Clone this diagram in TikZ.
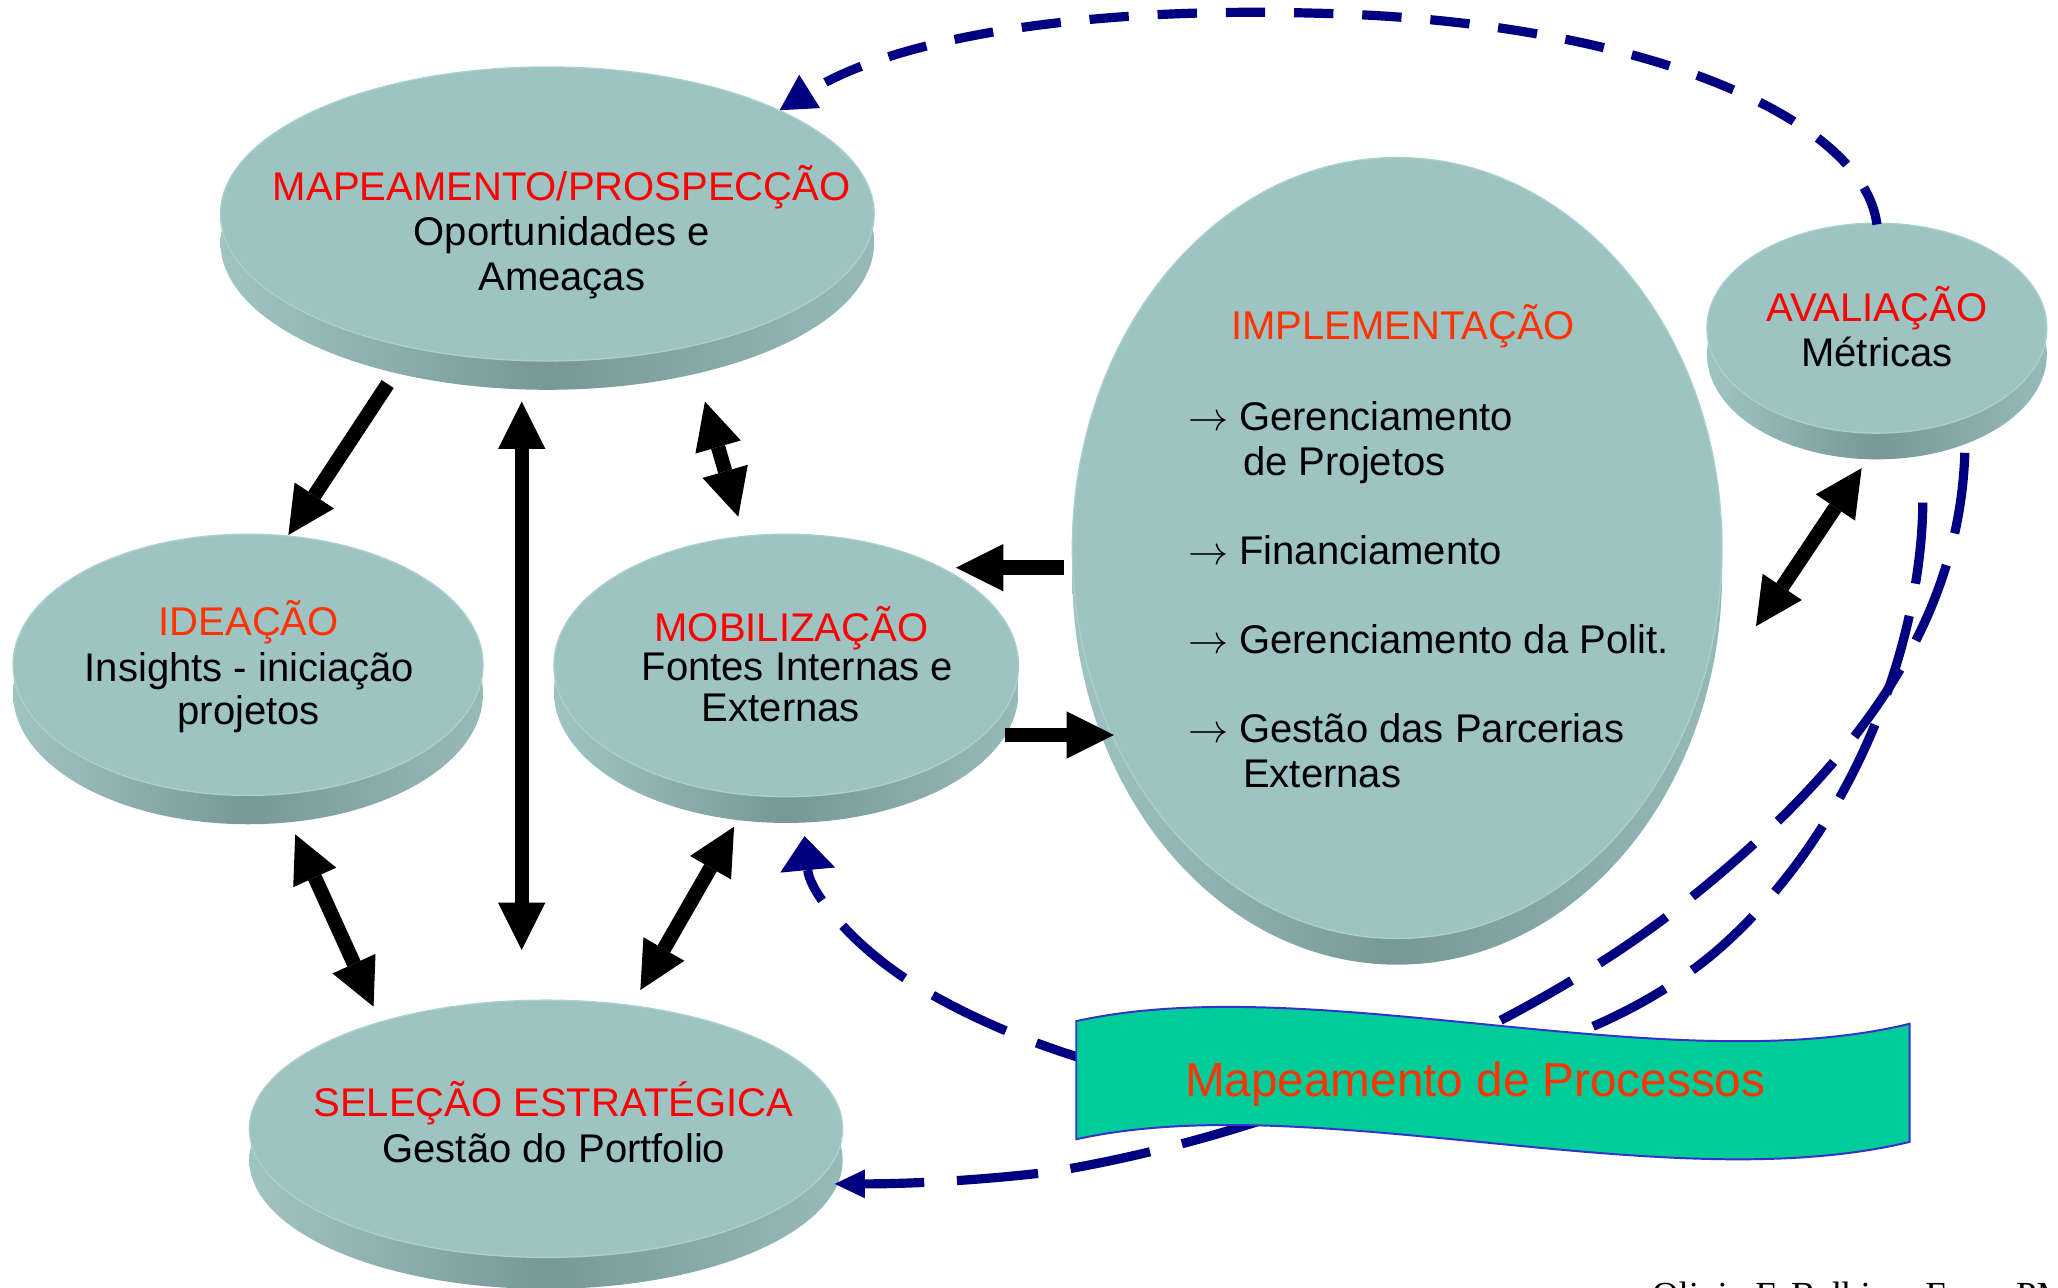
\RequirePackage{fix-cm}
\documentclass[tikz,border=0pt]{standalone}
\usepackage{fontspec}
\setmainfont{Liberation Sans}
\newfontfamily\footserif{Liberation Serif}
\usetikzlibrary{arrows.meta,shapes.geometric}
\definecolor{facec}{RGB}{157,195,195}
\definecolor{bandl}{RGB}{160,196,196}
\definecolor{bandm}{RGB}{120,152,152}
\definecolor{bandr}{RGB}{150,186,186}
\definecolor{rimc}{RGB}{172,208,208}
\definecolor{redA}{RGB}{255,0,0}
\definecolor{redB}{RGB}{255,51,0}
\definecolor{navyc}{RGB}{0,0,128}
\definecolor{bannerc}{RGB}{0,204,153}
\definecolor{bannerl}{RGB}{51,51,204}
\newcommand{\itemarrow}{$\rightarrow$\ }
\begin{document}
\begin{tikzpicture}[x=1pt,y=-1pt,
  face/.style={ellipse, fill=facec, draw=rimc, line width=1pt, inner sep=0pt},
  band/.style={left color=bandl, right color=bandr, middle color=bandm},
  txt/.style={font=\fontsize{30.5}{34}\selectfont, inner sep=0pt, anchor=base},
  txtw/.style={txt, anchor=base west},
  blk/.style={line width=11pt, draw=black},
  sarr/.style={blk, -{Triangle[length=36pt,width=36pt,line width=0pt]}},
  darr/.style={blk, {Triangle[length=36pt,width=36pt,line width=0pt]}-{Triangle[length=36pt,width=36pt,line width=0pt]}},
  dshA/.style={draw=navyc, line width=7pt, dash pattern=on 30pt off 22pt},
  dshB/.style={draw=navyc, line width=7pt, dash pattern=on 62pt off 25pt},
]
\useasboundingbox (0,0) rectangle (1568,981);

% ---------- ellipses (3D discs) ----------
\shade[band] (417,185) ellipse [x radius=249pt, y radius=112pt];
\node[face, minimum width=498pt, minimum height=224pt] (map) at (417,163) {};

\shade[band] (189,528.5) ellipse [x radius=179pt, y radius=99.5pt];
\node[face, minimum width=358pt, minimum height=199pt] (idea) at (189,506.5) {};

\shade[band] (599,527) ellipse [x radius=177pt, y radius=100pt];
\node[face, minimum width=354pt, minimum height=200pt] (mob) at (599,507) {};

\shade[band] (416,884) ellipse [x radius=226pt, y radius=98pt];
\node[face, minimum width=452pt, minimum height=196pt] (sel) at (416,860) {};

\shade[band] (1064.5,437.5) ellipse [x radius=247.5pt, y radius=297.5pt];
\node[face, minimum width=495pt, minimum height=595pt] (impl) at (1064.5,417.5) {};

\shade[band] (1430,270) ellipse [x radius=129.5pt, y radius=80pt];
\node[face, minimum width=259pt, minimum height=160pt] (aval) at (1430,250) {};

% ---------- texts ----------
\node[txt, text=redA] (map1) at (428,153) {MAPEAMENTO/PROSPECÇÃO};
\node[txt] (map2) at (428,187) {Oportunidades e};
\node[txt] (map3) at (428,221) {Ameaças};

\node[txt, text=redB] (idea1) at (189.5,484) {IDEAÇÃO};
\node[txt] (idea2) at (190,519) {Insights - iniciação};
\node[txt] (idea3) at (189.5,552) {projetos};

\node[txt, text=redA] (mob1) at (603,489) {MOBILIZAÇÃO};
\node[txt] (mob2) at (607.5,518.5) {Fontes Internas e};
\node[txt] (mob3) at (595,550) {Externas};

\node[txt, text=redA] (sel1) at (421.5,851) {SELEÇÃO ESTRATÉGICA};
\node[txt] (sel2) at (422,886) {Gestão do Portfolio};

\node[txt, text=redB] (impl1) at (1069,259) {IMPLEMENTAÇÃO};
\node[txtw] (impl2) at (905,328) {\itemarrow Gerenciamento};
\node[txtw] (impl3) at (947,362) {de Projetos};
\node[txtw] (impl4) at (905,430) {\itemarrow Financiamento};
\node[txtw] (impl5) at (905,498) {\itemarrow Gerenciamento da Polit.};
\node[txtw] (impl6) at (905,566) {\itemarrow Gestão das Parcerias};
\node[txtw] (impl7) at (947,600) {Externas};

\node[txt, text=redA] (aval1) at (1430,245) {AVALIAÇÃO};
\node[txt] (aval2) at (1430,279) {Métricas};

% ---------- black block arrows ----------
\coordinate (a1) at (295.4,292.6);  \coordinate (a2) at (219.7,407.6);
\coordinate (b1) at (397.5,306);    \coordinate (b2) at (397.5,723.8);
\coordinate (c1) at (537.1,306);    \coordinate (c2) at (562.5,393.7);
\coordinate (d1) at (810.7,432.5);  \coordinate (d2) at (728.4,432.5);
\coordinate (e1) at (765.7,560);    \coordinate (e2) at (848.7,560);
\coordinate (f1) at (224.9,635.7);  \coordinate (f2) at (284.6,767);
\coordinate (g1) at (559.3,629.9);  \coordinate (g2) at (487.9,754.3);
\coordinate (h1) at (1418.4,356.7); \coordinate (h2) at (1337.9,477.1);
\draw[sarr] (a1) -- (a2);
\draw[darr] (b1) -- (b2);
\draw[darr] (c1) -- (c2);
\draw[sarr] (d1) -- (d2);
\draw[sarr] (e1) -- (e2);
\draw[darr] (f1) -- (f2);
\draw[darr] (g1) -- (g2);
\draw[darr] (h1) -- (h2);

% ---------- dashed feedback curves ----------
\coordinate (t1s) at (1430,171);  \coordinate (t1e) at (594,84);
\coordinate (t2s) at (1497,345);  \coordinate (t2e) at (636,902);
\coordinate (t3s) at (1465,383);  \coordinate (t3e) at (613,637);
\draw[dshA, -{Triangle[length=27pt,width=30pt,line width=0pt]}]
  (t1s) .. controls (1420,90) and (1250,15) .. (1000,10)
        .. controls (820,5) and (680,30) .. (t1e);
\draw[dshB, -{Triangle[length=23pt,width=22pt,line width=0pt]}]
  (t2s) .. controls (1493,470) and (1420,580) .. (1282,689)
        .. controls (1180,770) and (1000,860) .. (800,893)
        .. controls (740,900) and (690,902) .. (t2e);
\draw[dshB, -{Triangle[length=26pt,width=42pt,line width=0pt]}]
  (t3s) .. controls (1464,490) and (1413,630) .. (1313,720)
        .. controls (1253,774) and (1150,820) .. (1000,830)
        .. controls (900,837) and (780,800) .. (700,752)
        .. controls (650,722) and (617,680) .. (t3e);

% ---------- banner ----------
\draw[fill=bannerc, draw=bannerl, line width=1.5pt]
  (820,778) .. controls (1000,738) and (1270,825) .. (1455,780)
  -- (1455,870) .. controls (1270,915) and (1000,828) .. (820,868) -- cycle;
\node[font=\fontsize{36.3}{40}\selectfont, text=redB, inner sep=0pt, anchor=base] (proc) at (1124,835.6) {Mapeamento de Processos};

% ---------- footer (cut by page edge, as in the reference) ----------
\node[font=\footserif\fontsize{28}{30}\selectfont, anchor=base west, inner sep=0pt] (foot) at (1258.6,996) {Olivio F. Balbino\hspace{13.5pt}Faro\hspace{18pt}PM};
\end{tikzpicture}
\end{document}
